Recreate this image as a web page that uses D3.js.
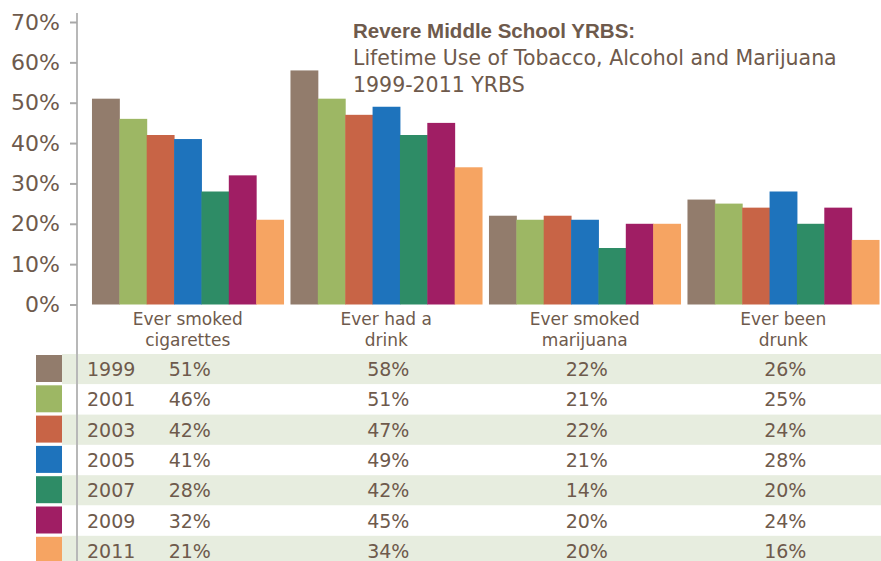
<!DOCTYPE html>
<html>
<head>
<meta charset="utf-8">
<script src="https://cdn.jsdelivr.net/npm/d3@7"></script>
<style>
  body { margin: 0; background: #fff; }
  svg text { font-family: "DejaVu Sans", sans-serif; fill: #6e5a4c; }
</style>
</head>
<body>
<svg id="chart"></svg>
<script>
// revere middle school yrbs - lifetime use
var width = 881;
var height = 561;

var categories = ["Ever smoked cigarettes", "Ever had a drink", "Ever smoked marijuana", "Ever been drunk"];
var categoryLines = [["Ever smoked", "cigarettes"], ["Ever had a", "drink"], ["Ever smoked", "marijuana"], ["Ever been", "drunk"]];
var years = ["1999", "2001", "2003", "2005", "2007", "2009", "2011"];
var colors = ["#927c6c", "#9db764", "#c86446", "#1e73bc", "#2e8c66", "#a01e64", "#f6a462"];

var cigarettes = [51, 46, 42, 41, 28, 32, 21];
var drink = [58, 51, 47, 49, 42, 45, 34];
var marijuana = [22, 21, 22, 21, 14, 20, 20];
var drunk = [26, 25, 24, 28, 20, 24, 16];

var yTicks = [0, 10, 20, 30, 40, 50, 60, 70];

var seriesByCat = [cigarettes, drink, marijuana, drunk];

var svg = d3.select("svg#chart")
    .attr("width", width)
    .attr("height", height);

var x0 = d3.scaleBand()
    .domain(categories)
    .range([89, 882])
    .paddingInner(0.035)
    .paddingOuter(0.015);

var x1 = d3.scaleBand()
    .domain(years)
    .range([0, x0.bandwidth()]);

var y = d3.scaleLinear()
    .domain([0, 70])
    .range([304.5, 22]);

// table bands first (behind the axis line)
var rowTop = 354, rowH = 30.3;
var table = svg.append("g");

table.selectAll("rect.band")
    .data(years)
    .enter()
    .append("rect")
    .attr("class", "band")
    .attr("x", 62)
    .attr("y", function(d, i) { return rowTop + i * rowH })
    .attr("width", width - 62)
    .attr("height", rowH)
    .attr("fill", function(d, i) { return i % 2 == 0 ? "#e7eddf" : "#fff" });

table.selectAll("rect.swatch")
    .data(years)
    .enter()
    .append("rect")
    .attr("class", "swatch")
    .attr("x", 36)
    .attr("y", function(d, i) { return rowTop + 1 + i * rowH })
    .attr("width", 26)
    .attr("height", 27)
    .attr("fill", function(d, i) { return colors[i] });

table.selectAll("text.year")
    .data(years)
    .enter()
    .append("text")
    .attr("class", "year")
    .attr("x", 87)
    .attr("y", function(d, i) { return rowTop + 22 + i * rowH })
    .style("font-size", "19px")
    .text(function(d) { return d });

categories.forEach(function(c, ci) {
    table.selectAll("text.val" + ci)
        .data(seriesByCat[ci])
        .enter()
        .append("text")
        .attr("class", "val" + ci)
        .attr("x", x0(c) + x0.bandwidth() / 2 + 2)
        .attr("y", function(d, i) { return rowTop + 22 + i * rowH })
        .attr("text-anchor", "middle")
        .style("font-size", "19px")
        .text(function(d) { return d + "%" });
});

// axis
svg.append("line")
    .attr("x1", 77).attr("x2", 77)
    .attr("y1", 13).attr("y2", height)
    .attr("stroke", "#b8b8b8")
    .attr("stroke-width", 2);

var yAxis = svg.append("g")
    .attr("transform", "translate(77,0)")
    .call(d3.axisLeft(y).tickValues(yTicks).tickSize(7).tickPadding(10).tickFormat(function(d) { return d + "%" }));

yAxis.select(".domain").remove();
yAxis.selectAll(".tick line").attr("stroke", "#a8a8a8").attr("stroke-width", 2);
yAxis.selectAll(".tick text")
    .style("font-size", "22px")
    .style("font-family", "DejaVu Sans, sans-serif")
    .attr("fill", "#6e5a4c");

// bars
var groups = svg.selectAll("g.cat")
    .data(categories)
    .enter()
    .append("g")
    .attr("class", "cat")
    .attr("transform", function(d) { return "translate(" + x0(d) + ",0)" });

groups.selectAll("rect")
    .data(function(d, ci) { return seriesByCat[ci] })
    .enter()
    .append("rect")
    .attr("x", function(d, i) { return x1(years[i]) })
    .attr("y", function(d) { return y(d) })
    .attr("width", x1.bandwidth() + 0.5)
    .attr("height", function(d) { return y(0) - y(d) })
    .attr("fill", function(d, i) { return colors[i] });

groups.each(function(d, ci) {
    var t = d3.select(this).append("text")
        .attr("x", x0.bandwidth() / 2)
        .attr("y", 325)
        .attr("text-anchor", "middle")
        .style("font-size", "17px");
    categoryLines[ci].forEach(function(line, li) {
        t.append("tspan")
            .attr("x", x0.bandwidth() / 2)
            .attr("dy", li == 0 ? 0 : 21)
            .text(line);
    });
});

// title
var title = svg.append("g").attr("transform", "translate(353,0)");
title.append("text")
    .attr("y", 38)
    .style("font-family", "Liberation Sans, sans-serif")
    .style("font-weight", "bold")
    .style("font-size", "20.5px")
    .text("Revere Middle School YRBS:");
title.append("text")
    .attr("y", 65)
    .style("font-size", "20.5px")
    .text("Lifetime Use of Tobacco, Alcohol and Marijuana");
title.append("text")
    .attr("y", 92)
    .style("font-size", "20.5px")
    .text("1999-2011 YRBS");
</script>
</body>
</html>
